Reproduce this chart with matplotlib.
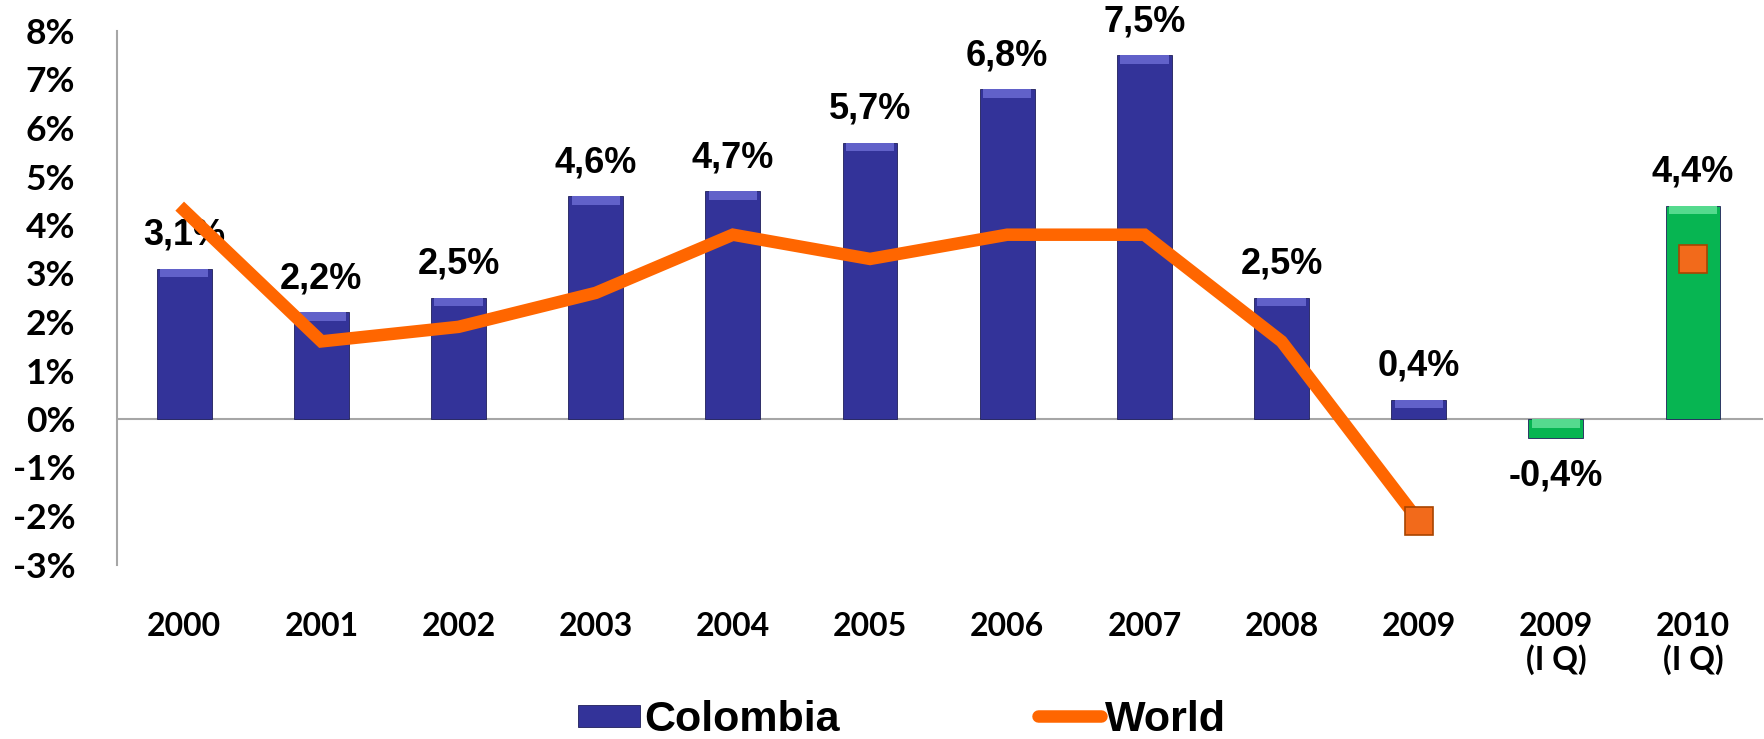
import numpy as np
import matplotlib.pyplot as plt
from matplotlib.patches import Rectangle
from matplotlib.lines import Line2D
from matplotlib.legend_handler import HandlerPatch

# Data
categories = ['2000', '2001', '2002', '2003', '2004', '2005', '2006', '2007',
              '2008', '2009', '2009\n(I Q)', '2010\n(I Q)']
colombia = [3.1, 2.2, 2.5, 4.6, 4.7, 5.7, 6.8, 7.5, 2.5, 0.4, -0.4, 4.4]
world = [4.3, 1.6, 1.9, 2.6, 3.8, 3.3, 3.8, 3.8, 1.6, -2.1, np.nan, 3.3]
bar_labels = ['3,1%', '2,2%', '2,5%', '4,6%', '4,7%', '5,7%', '6,8%', '7,5%',
              '2,5%', '0,4%', '-0,4%', '4,4%']
quarterly = [False] * 10 + [True, True]
y_ticks = list(range(-3, 9))

blue, blue_hi = '#333399', '#6161C9'
green, green_hi = '#07B552', '#55DA8E'
orange = '#FF6600'

fig = plt.figure(figsize=(17.65, 7.39), dpi=100)
ax = fig.add_axes([117 / 1765, 1 - 564.5 / 739, 1646 / 1765, 533.5 / 739])

x = np.arange(len(categories))
body = [green if q else blue for q in quarterly]
hi = [green_hi if q else blue_hi for q in quarterly]
width = 0.40

ax.bar(x, colombia, width=width, color=body, edgecolor='#1f1f5a', linewidth=0.6, zorder=2)
# bevel highlight on top of each bar
bevel = 0.18
tops = np.maximum(colombia, 0)
ax.bar(x, bevel, bottom=tops - bevel, width=width * 0.88, color=hi, linewidth=0, zorder=2.5)

ax.axhline(0, color='#a6a6a6', lw=1.5, zorder=1)

# data labels
for xi, v, lab in zip(x, colombia, bar_labels):
    off = 24 if v >= 0 else -27
    ax.annotate(lab, (xi, v), xytext=(0, off), textcoords='offset points',
                ha='center', va='center', fontsize=26, fontweight='bold',
                family='Liberation Sans', color='black', zorder=3)

# World line, markers only where shown
ax.plot(x, world, color=orange, lw=9, solid_joinstyle='miter', zorder=4,
        marker='s', markevery=[9, 11], markersize=20,
        markerfacecolor='#F26A1B', markeredgecolor='#A84400', markeredgewidth=1.2)

ax.set_xlim(-0.49, 11.51)
ax.set_ylim(-3, 8)
ax.set_yticks(y_ticks)
ax.set_yticklabels([f'{t}%' for t in y_ticks])
ax.set_xticks(x)
ax.set_xticklabels(categories, linespacing=1.15)

ax.tick_params(axis='y', length=0, pad=30, labelsize=25.5)
ax.tick_params(axis='x', length=0, pad=34, labelsize=23)
for lab in ax.get_xticklabels() + ax.get_yticklabels():
    lab.set_fontweight('bold')
    lab.set_family('Lato')

for s in ['top', 'right', 'bottom']:
    ax.spines[s].set_visible(False)
ax.spines['left'].set_color('#a6a6a6')
ax.spines['left'].set_linewidth(1.5)


class BarHandler(HandlerPatch):
    def create_artists(self, legend, orig_handle, xdescent, ydescent,
                       width, height, fontsize, trans):
        h = height * 0.72
        r = Rectangle((-xdescent, -ydescent + (height - h) / 2), width, h,
                      facecolor=blue, edgecolor='#1f1f5a', lw=0.6, transform=trans)
        return [r]


handles = [Rectangle((0, 0), 1, 1, color=blue),
           Line2D([], [], color=orange, lw=9, solid_capstyle='round')]
fig.legend(handles, ['Colombia', 'World'], loc='center',
           bbox_to_anchor=(902 / 1765, 1 - 720 / 739), ncol=2, frameon=False,
           prop={'family': 'Liberation Sans', 'weight': 'bold', 'size': 31},
           handlelength=1.45, handletextpad=0.1, columnspacing=4.6,
           handler_map={Rectangle: BarHandler()})

fig.savefig('out.png', dpi=100)
